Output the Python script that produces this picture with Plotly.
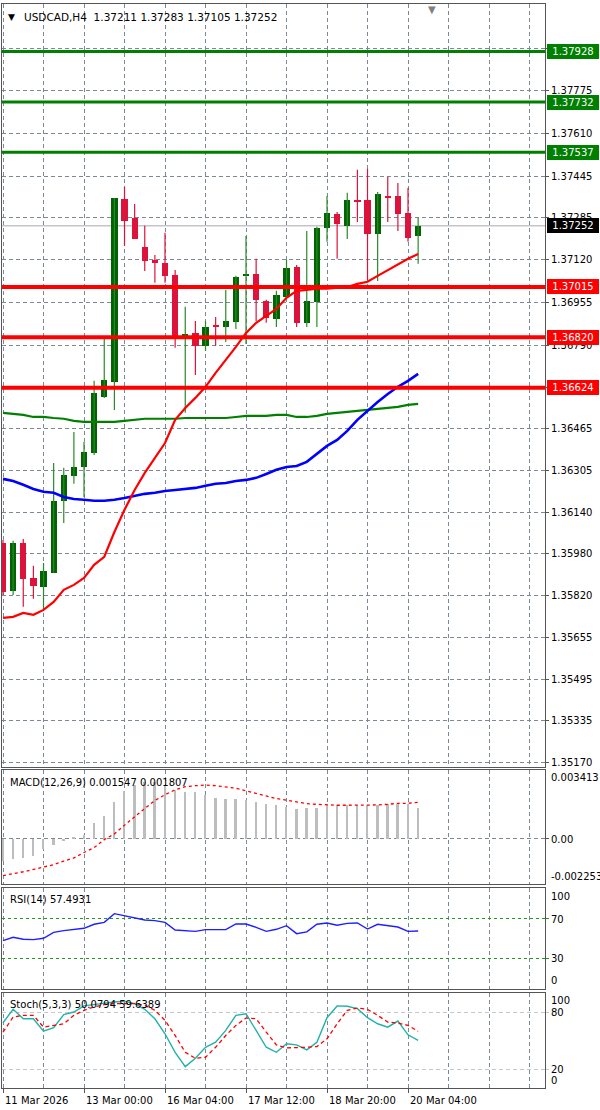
import plotly.graph_objects as go

# ---------------- data ----------------
bars = list(range(42))
opens = [1.36023,1.35837,1.36023,1.35887,1.35852,1.35907,1.36186,1.36283,1.36317,1.36372,1.36589,1.36647,1.37356,1.37283,1.37170,1.37120,1.37108,1.37062,1.36818,1.36837,1.36787,1.36864,1.36860,1.36880,1.37058,1.37066,1.36961,1.36891,1.36976,1.37093,1.36876,1.36957,1.37244,1.37298,1.37252,1.37352,1.37352,1.37221,1.37368,1.37368,1.37302,1.37211]
highs = [1.36034,1.36031,1.36038,1.35934,1.35945,1.36333,1.36314,1.36453,1.36414,1.36651,1.36825,1.37360,1.37403,1.37337,1.37252,1.37139,1.37225,1.37081,1.36938,1.36883,1.36883,1.36899,1.37004,1.37058,1.37213,1.37124,1.36965,1.37000,1.37120,1.37100,1.37232,1.37248,1.37368,1.37306,1.37380,1.37469,1.37473,1.37383,1.37442,1.37418,1.37399,1.37283]
lows = [1.35821,1.35821,1.35775,1.35806,1.35763,1.35907,1.36100,1.36252,1.36201,1.36364,1.36585,1.36538,1.37174,1.37201,1.37077,1.37031,1.37031,1.36779,1.36527,1.36674,1.36767,1.36787,1.36802,1.36852,1.36794,1.36883,1.36876,1.36860,1.36973,1.36860,1.36860,1.36860,1.37190,1.37124,1.37201,1.37267,1.37042,1.37038,1.37267,1.37232,1.37190,1.37105]
closes = [1.35833,1.36023,1.35883,1.35856,1.35914,1.36186,1.36286,1.36317,1.36376,1.36604,1.36655,1.37360,1.37271,1.37201,1.37116,1.37108,1.37058,1.36818,1.36833,1.36787,1.36860,1.36860,1.36883,1.37054,1.37066,1.36965,1.36895,1.36984,1.37089,1.36876,1.36961,1.37244,1.37302,1.37259,1.37352,1.37345,1.37221,1.37376,1.37360,1.37298,1.37205,1.37252]

ma_red = [1.35732,1.35736,1.35751,1.35744,1.35763,1.35794,1.35841,1.35860,1.35887,1.35938,1.35969,1.36065,1.36151,1.36228,1.36294,1.36352,1.36410,1.36500,1.36546,1.36585,1.36628,1.36682,1.36732,1.36783,1.36837,1.36876,1.36903,1.36930,1.36973,1.37000,1.37004,1.37008,1.37008,1.37011,1.37015,1.37027,1.37035,1.37058,1.37081,1.37104,1.37124,1.37143]
ma_blue = [1.36271,1.36263,1.36248,1.36232,1.36221,1.36217,1.36201,1.36193,1.36190,1.36186,1.36186,1.36190,1.36197,1.36205,1.36213,1.36217,1.36224,1.36228,1.36232,1.36236,1.36244,1.36252,1.36255,1.36263,1.36267,1.36275,1.36290,1.36306,1.36317,1.36321,1.36337,1.36368,1.36399,1.36422,1.36457,1.36500,1.36535,1.36569,1.36600,1.36628,1.36651,1.36678]
ma_green = [1.36527,1.36523,1.36519,1.36511,1.36511,1.36507,1.36504,1.36496,1.36492,1.36492,1.36492,1.36492,1.36496,1.36500,1.36504,1.36504,1.36504,1.36504,1.36507,1.36507,1.36507,1.36507,1.36507,1.36511,1.36515,1.36515,1.36515,1.36519,1.36519,1.36511,1.36511,1.36515,1.36523,1.36527,1.36531,1.36535,1.36538,1.36542,1.36546,1.36550,1.36558,1.36562]

macd_hist = [-0.001085,-0.001005,-0.000974,-0.000878,-0.000527,-0.000335,-0.000128,0.000080,0.000200,0.000782,0.001117,0.001835,0.002346,0.002665,0.002825,0.002793,0.002665,0.002426,0.002314,0.002314,0.002187,0.002027,0.001979,0.001979,0.001947,0.001835,0.001740,0.001660,0.001580,0.001468,0.001500,0.001500,0.001708,0.001660,0.001660,0.001660,0.001660,0.001660,0.001708,0.001708,0.001708,0.001547]
macd_signal = [-0.001835,-0.001756,-0.001644,-0.001532,-0.001420,-0.001293,-0.001117,-0.000958,-0.000686,-0.000447,-0.000048,0.000239,0.000670,0.001101,0.001500,0.001899,0.002187,0.002426,0.002585,0.002633,0.002665,0.002633,0.002585,0.002506,0.002378,0.002234,0.002123,0.001995,0.001899,0.001803,0.001740,0.001708,0.001676,0.001660,0.001660,0.001660,0.001660,0.001676,0.001708,0.001756,0.001756,0.001807]
rsi = [47.9,51.2,49.2,48.9,50.2,56.1,57.8,58.8,60.1,64.1,66.0,74.6,72.6,71.0,68.3,67.7,66.0,58.4,57.8,57.1,58.8,58.8,58.8,64.4,64.4,61.1,57.1,59.1,62.7,54.8,56.5,64.1,65.4,63.1,65.0,65.4,59.4,64.1,63.1,61.4,57.1,57.49]
stoch_k = [68.7,82.8,72.9,72.9,59.9,63.4,77.2,80.0,86.4,87.8,89.9,90.6,91.3,88.8,82.8,72.9,57.1,37.6,22.5,31.3,42.9,48.2,60.6,76.5,78.2,60.6,42.9,37.6,46.5,45.4,40.1,48.2,74.0,86.4,86.0,83.5,74.0,67.6,64.1,70.5,56.0,50.08]
stoch_d = [58.8,74.7,76.5,76.5,64.1,65.9,67.6,76.5,81.8,85.3,87.8,88.8,88.8,88.8,87.1,81.8,71.2,55.3,37.6,31.3,32.3,42.9,55.3,65.9,73.6,72.9,58.8,45.4,42.2,42.2,42.9,43.6,51.8,67.6,81.8,84.2,82.8,76.5,69.4,68.4,65.9,59.64]

resist_levels = [1.37928, 1.37732, 1.37537]
support_levels = [1.37015, 1.36820, 1.36624]
last_price = 1.37252

price_ticks = [1.37940,1.37775,1.37610,1.37445,1.37285,1.37120,1.36955,1.36790,1.36625,1.36465,1.36305,1.36140,1.35980,1.35820,1.35655,1.35495,1.35335,1.35170]
price_tick_text = ["","1.37775","1.37610","1.37445","1.37285","1.37120","1.36955","1.36790","","1.36465","1.36305","1.36140","1.35980","1.35820","1.35655","1.35495","1.35335","1.35170"]
x_tick_bars = [0, 8, 16, 24, 32, 40]
x_tick_text = ["11 Mar 2026", "13 Mar 00:00", "16 Mar 04:00", "17 Mar 12:00", "18 Mar 20:00", "20 Mar 04:00"]

header_text = "USDCAD,H4\u00a0\u00a01.37211 1.37283 1.37105 1.37252"
macd_title = "MACD(12,26,9) 0.001547 0.001807"
rsi_title = "RSI(14) 57.4931"
stoch_title = "Stoch(5,3,3) 50.0794 59.6389"
macd_labels = [(0.003413, "0.003413"), (0.0, "0.00"), (-0.002253, "-0.002253")]
rsi_labels = [(100, "100"), (70, "70"), (30, "30"), (0, "0")]
stoch_labels = [(100, "100"), (80, "80"), (20, "20"), (0, "0")]

# ---------------- layout helpers ----------------
W, H = 600, 1110
ML, MR = 2, 55
PW = W - ML - MR
BAR_PX = 10.125
x_range = [-0.1, -0.1 + PW / BAR_PX]

def pxx(px):
    return (px - ML) / PW

def pxy(py):
    return 1 - py / H

FONT = "DejaVu Sans"
GRID = "#7d8896"
GREEN_BODY = "#006400"
GREEN_WICK = "#2a8a2a"
RED_C = "#dc143c"

fig = go.Figure()

# candle wicks
for col, cond in ((GREEN_WICK, True), (RED_C, False)):
    wx, wy = [], []
    for i in bars:
        if (closes[i] >= opens[i]) == cond:
            wx += [i, i, None]
            wy += [lows[i], highs[i], None]
    fig.add_trace(go.Scatter(x=wx, y=wy, mode="lines", line=dict(color=col, width=1.2),
                             hoverinfo="skip", showlegend=False, xaxis="x", yaxis="y"))

# candle bodies
body_base = [min(o, c) for o, c in zip(opens, closes)]
body_h = [max(abs(c - o), 0.00003) for o, c in zip(opens, closes)]
body_col = [GREEN_BODY if c >= o else RED_C for o, c in zip(opens, closes)]
fig.add_trace(go.Bar(x=bars, y=body_h, base=body_base, width=0.62,
                     marker=dict(color=body_col, line=dict(width=0)),
                     showlegend=False, xaxis="x", yaxis="y"))

# moving averages
fig.add_trace(go.Scatter(x=bars, y=ma_green, mode="lines", line=dict(color="#008000", width=2.2),
                         showlegend=False, xaxis="x", yaxis="y"))
fig.add_trace(go.Scatter(x=bars, y=ma_blue, mode="lines", line=dict(color="#0000ff", width=2.6),
                         showlegend=False, xaxis="x", yaxis="y"))
fig.add_trace(go.Scatter(x=bars, y=ma_red, mode="lines", line=dict(color="#ff0000", width=2.2),
                         showlegend=False, xaxis="x", yaxis="y"))

# MACD
fig.add_trace(go.Bar(x=bars, y=macd_hist, width=0.18, marker=dict(color="#bdbdbd", line=dict(width=0)),
                     showlegend=False, xaxis="x2", yaxis="y2"))
fig.add_trace(go.Scatter(x=bars, y=macd_signal, mode="lines",
                         line=dict(color="#ff0000", width=1.3, dash="3px,3px"),
                         showlegend=False, xaxis="x2", yaxis="y2"))
# RSI
fig.add_trace(go.Scatter(x=bars, y=rsi, mode="lines", line=dict(color="#1e1eff", width=1.4),
                         showlegend=False, xaxis="x3", yaxis="y3"))
# Stoch
fig.add_trace(go.Scatter(x=bars, y=stoch_k, mode="lines", line=dict(color="#20b2aa", width=1.4),
                         showlegend=False, xaxis="x4", yaxis="y4"))
fig.add_trace(go.Scatter(x=bars, y=stoch_d, mode="lines",
                         line=dict(color="#ff0000", width=1.3, dash="4px,3px"),
                         showlegend=False, xaxis="x4", yaxis="y4"))

# ---------------- axes ----------------
dom_main = [pxy(767), pxy(4)]
dom_macd = [pxy(884), pxy(770)]
dom_rsi = [pxy(989), pxy(888)]
dom_sto = [pxy(1088), pxy(993)]

xbase = dict(range=x_range, showline=True, mirror=True, linecolor="#555555", linewidth=1,
             showgrid=True, gridcolor=GRID, griddash="4px,3px", gridwidth=1,
             tick0=0, dtick=4, showticklabels=False, ticks="", zeroline=False, fixedrange=True)

layout_axes = {}
for name in ("", "2", "3", "4"):
    xa = dict(xbase)
    xa["domain"] = [0, 1]
    xa["anchor"] = "y" + name
    if name == "4":
        xa.update(tickmode="array", tickvals=x_tick_bars, ticks="outside", ticklen=4,
                  tickcolor="#555555",
                  minor=dict(tick0=0, dtick=4, showgrid=True, gridcolor=GRID, griddash="4px,3px",
                             gridwidth=1, ticks=""))
    layout_axes["xaxis" + name] = xa

ybase = dict(showline=True, mirror=True, linecolor="#555555", linewidth=1, zeroline=False,
             side="right", fixedrange=True)

layout_axes["yaxis"] = dict(ybase, domain=dom_main, anchor="x",
                            range=[1.35154, 1.38112], tickmode="array", tickvals=price_ticks,
                            ticktext=price_tick_text, showgrid=True, gridcolor=GRID, griddash="4px,3px",
                            ticks="outside", ticklen=3, tickcolor="#555555",
                            tickfont=dict(family=FONT, size=10, color="#000000"))
layout_axes["yaxis2"] = dict(ybase, domain=dom_macd, anchor="x2", range=[-0.002253, 0.003413],
                             tickmode="array", tickvals=[0], showticklabels=False, showgrid=True,
                             gridcolor=GRID, griddash="4px,3px", ticks="outside", ticklen=3, tickcolor="#555555")
layout_axes["yaxis3"] = dict(ybase, domain=dom_rsi, anchor="x3", range=[0, 100],
                             tickmode="array", tickvals=[30, 70], showticklabels=False, showgrid=True,
                             gridcolor="#1f9a1f", griddash="3px,3px", ticks="outside", ticklen=3,
                             tickcolor="#1f9a1f")
layout_axes["yaxis4"] = dict(ybase, domain=dom_sto, anchor="x4", range=[0, 100],
                             tickmode="array", tickvals=[20, 80], showticklabels=False, showgrid=True,
                             gridcolor="#c8c8c8", griddash="4px,3px", ticks="outside", ticklen=3,
                             tickcolor="#c8c8c8")

# ---------------- shapes (levels) ----------------
shapes = []
shapes.append(dict(type="line", xref="paper", x0=0, x1=1, yref="y", y0=last_price, y1=last_price,
                   line=dict(color="#a8a8b0", width=1), layer="between"))
for lv in resist_levels:
    shapes.append(dict(type="line", xref="paper", x0=0, x1=1, yref="y", y0=lv, y1=lv,
                       line=dict(color="#008000", width=3), layer="above"))
for lv in support_levels:
    shapes.append(dict(type="line", xref="paper", x0=0, x1=1, yref="y", y0=lv, y1=lv,
                       line=dict(color="#ff0000", width=4), layer="above"))

# ---------------- annotations ----------------
ann = []

def box(level, bg):
    return dict(xref="paper", x=pxx(547), xanchor="left", yref="y", y=level, yanchor="middle",
                text=f"{level:.5f}", showarrow=False, bgcolor=bg, bordercolor=bg, borderpad=1,
                width=48, align="center", font=dict(family=FONT, size=10, color="#ffffff"))

for lv in resist_levels:
    ann.append(box(lv, "#008000"))
for lv in support_levels:
    ann.append(box(lv, "#ff0000"))
ann.append(box(last_price, "#000000"))

def txt(text, px, py, size=10, anchor="left", color="#000000"):
    return dict(xref="paper", yref="paper", x=pxx(px), y=pxy(py), xanchor=anchor, yanchor="middle",
                text=text, showarrow=False, font=dict(family=FONT, size=size, color=color))

ann.append(txt("\u25bc", 11, 17, size=9, anchor="center", color="#000000"))
ann.append(txt(header_text, 22, 17, size=10.5))
ann.append(txt("\u25bc", 432, 9, size=10, anchor="center", color="#808080"))
ann.append(txt(macd_title, 8, 782, size=10))
ann.append(txt(rsi_title, 8, 899, size=10))
ann.append(txt(stoch_title, 8, 1004, size=10))

macd_px = {0.003413: 778, 0.0: 839, -0.002253: 876}
for v, t in macd_labels:
    ann.append(txt(t, 549, macd_px[v]))
rsi_px = {100: 896, 70: 919, 30: 959, 0: 980}
for v, t in rsi_labels:
    ann.append(txt(t, 549, rsi_px[v]))
sto_px = {100: 1000, 80: 1012, 20: 1069, 0: 1080}
for v, t in stoch_labels:
    ann.append(txt(t, 549, sto_px[v]))

for b, t in zip(x_tick_bars, x_tick_text):
    ann.append(dict(xref="x4", x=b, xanchor="left", yref="paper", y=pxy(1100), yanchor="middle",
                    text=t, showarrow=False, font=dict(family=FONT, size=10, color="#000000")))

fig.update_layout(
    width=W, height=H, margin=dict(l=ML, r=MR, t=0, b=0),
    paper_bgcolor="#ffffff", plot_bgcolor="#ffffff",
    showlegend=False, barmode="overlay", bargap=0,
    shapes=shapes, annotations=ann, hovermode=False,
    **layout_axes,
)

fig.write_html("out.html", config={"displayModeBar": False},
               post_script="document.body.style.margin='0';document.body.style.overflow='hidden';")
